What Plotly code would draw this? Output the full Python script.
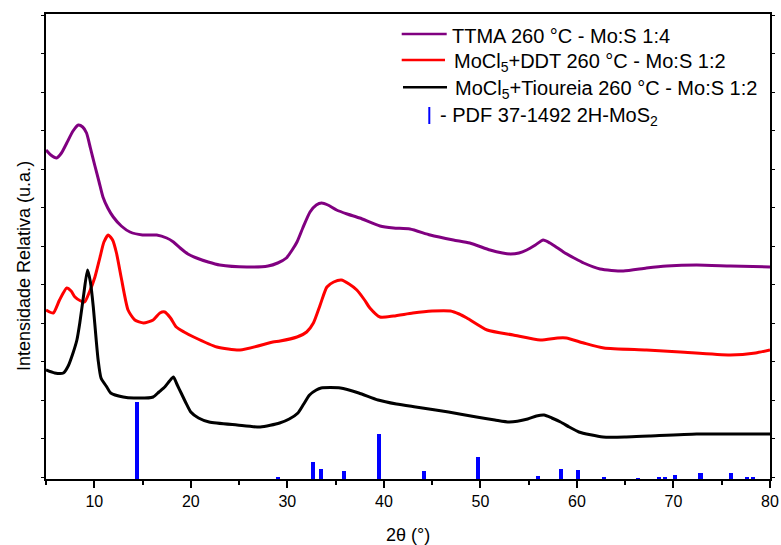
import plotly.graph_objects as go

# ---------------- data (2theta, relative intensity in arbitrary units) ----------------
ttma_x = [5.0, 5.5, 6.1, 6.6, 7.15, 7.8, 8.35, 8.8, 9.2, 9.6, 10.07, 10.5, 10.9, 11.4, 11.97,
          12.8, 13.7, 15.0, 16.47, 17.5, 18.2, 18.9, 19.7, 20.6, 21.8, 23.0, 25.8, 28.0, 29.0,
          29.9, 30.5, 31.0, 31.6, 32.35, 33.0, 33.55, 34.2, 35.1, 36.2, 37.5, 39.6, 41.0, 42.7,
          44.8, 47.2, 48.9, 51.0, 52.3, 53.1, 54.0, 54.8, 55.7, 56.5, 57.2, 58.0, 58.6, 59.7,
          60.7, 62.4, 64.8, 67.2, 69.3, 72.4, 75.9, 80.0]
ttma_y = [329, 324, 321, 326, 336, 348, 354, 352, 346, 331, 313, 297, 282, 271, 262,
          253, 247, 244, 244, 241, 237, 231, 225, 221, 217, 214, 212, 213, 216,
          221, 229, 237, 251, 267, 274, 276, 274, 269, 265, 261, 253, 251, 250,
          244, 239, 236, 229, 226, 225, 226, 229, 234, 239, 236, 231, 227, 221,
          216, 210, 208, 211, 213, 214, 213, 212]

ddt_x = [5.0, 5.75, 6.4, 7.15, 7.6, 8.0, 8.6, 9.0, 9.5, 10.07, 10.6, 11.0, 11.45, 11.9, 12.3,
         12.8, 13.5, 14.2, 15.1, 16.1, 16.8, 17.3, 17.9, 18.5, 19.3, 20.3, 22.7, 25.1, 28.5,
         29.25, 31.0, 32.0, 32.7, 33.4, 34.1, 34.8, 35.6, 36.4, 37.2, 38.0, 38.55, 39.6, 41.0,
         43.0, 45.0, 46.9, 47.8, 48.6, 50.7, 53.4, 56.2, 58.0, 58.9, 60.7, 62.8, 67.2, 70.7,
         75.9, 78.5, 80.0]
ddt_y = [169, 166, 179, 191, 188, 182, 178, 177, 187, 202, 222, 237, 244, 239, 226,
         201, 169, 159, 156, 159, 166, 167, 161, 152, 147, 142, 132, 129, 137,
         138, 142, 147, 156, 174, 192, 197, 199, 195, 189, 179, 171, 162, 163,
         166, 168, 168, 165, 161, 149, 144, 139, 141, 141, 136, 131, 129, 127,
         124, 126, 129]

tiou_x = [5.0, 5.9, 6.8, 7.3, 7.8, 8.2, 8.5, 8.9, 9.3, 9.6, 9.9, 10.2, 10.4, 10.7, 11.3,
          11.7, 13.0, 14.1, 16.1, 16.7, 17.3, 17.8, 18.2, 18.6, 19.0, 19.5, 20.0, 20.8, 21.9,
          24.8, 27.2, 29.2, 30.2, 31.1, 31.7, 32.3, 33.0, 33.5, 35.5, 37.4, 39.4, 41.3, 43.3,
          46.7, 49.6, 51.5, 53.0, 54.9, 55.8, 56.6, 57.4, 58.3, 59.2, 60.2, 62.7, 65.1, 67.5,
          72.4, 76.0, 80.0]
tiou_y = [109, 106, 106, 113, 126, 139, 156, 184, 209, 197, 172, 139, 119, 101, 92,
          86, 82, 81, 82, 87, 92, 98, 102, 94, 86, 76, 67, 61, 57,
          54, 52, 56, 60, 66, 75, 84, 89, 91, 91, 86, 79, 75, 72,
          67, 62, 59, 57, 60, 63, 64, 61, 57, 52, 47, 42, 42, 43,
          45, 45, 45]

pdf_pos = [14.38, 29.03, 32.68, 33.51, 35.87, 39.54, 44.15, 49.79, 55.98, 58.33,
           60.15, 62.8, 66.3, 68.5, 69.1, 70.15, 72.8, 75.95, 77.6, 78.2]
pdf_int = [77, 2, 17, 10, 8, 45, 8.5, 22.5, 3, 10.5,
           9.5, 2, 1, 2.5, 2, 3.7, 5.7, 5.7, 2, 2]

x_ticks = [10, 20, 30, 40, 50, 60, 70, 80]

names = ["TTMA 260 °C - Mo:S 1:4",
         "MoCl<sub>5</sub>+DDT 260 °C - Mo:S 1:2",
         "MoCl<sub>5</sub>+Tioureia 260 °C - Mo:S 1:2",
         "- PDF 37-1492 2H-MoS<sub>2</sub>"]
colors = ["#800080", "#FF0000", "#000000", "#0000FF"]

FONT = "Arial, Liberation Sans, sans-serif"

# ---------------- figure ----------------
W, H = 781, 545
L, R, T, B = 46, 11, 14, 66
PW, PH = W - L - R, H - T - B


def px(xp):
    return (xp - L) / PW


def py(yp):
    return (H - B - yp) / PH


fig = go.Figure()

fig.add_trace(go.Bar(x=pdf_pos, y=pdf_int, width=0.42, marker=dict(color=colors[3], line=dict(width=0)),
                     showlegend=False))
for xs, ys, c in [(ttma_x, ttma_y, colors[0]), (ddt_x, ddt_y, colors[1]), (tiou_x, tiou_y, colors[2])]:
    fig.add_trace(go.Scatter(x=xs, y=ys, mode="lines",
                             line=dict(color=c, width=3, shape="spline", smoothing=0.6),
                             showlegend=False))

fig.update_layout(
    width=W, height=H, autosize=False,
    margin=dict(l=L, r=R, t=T, b=B, pad=0, autoexpand=False),
    paper_bgcolor="white", plot_bgcolor="white",
    font=dict(family=FONT, color="black"),
    bargap=0,
)
fig.update_xaxes(range=[5, 80], tickvals=x_ticks, ticks="outside", ticklen=7, tickwidth=1.5,
                 tickcolor="black", showline=True, linecolor="black", linewidth=1.6, mirror=True,
                 showgrid=False, zeroline=False, tickfont=dict(size=16, family=FONT), automargin=False,
                 minor=dict(dtick=5, tick0=5, ticks="outside", ticklen=4, tickwidth=1.5, tickcolor="black"))
fig.update_yaxes(range=[0, PH], showticklabels=False, ticks="outside", ticklen=3, tickwidth=1,
                 tickcolor="black", tick0=1.8, dtick=38.5, showline=True, linecolor="black",
                 linewidth=1.6, mirror="ticks", showgrid=False, zeroline=False, automargin=False)

annotations = [
    dict(text="2θ (°)", x=0.5, y=py(535), xref="paper", yref="paper", showarrow=False,
         xanchor="center", yanchor="middle", font=dict(size=18, family=FONT)),
    dict(text="Intensidade Relativa (u.a.)", x=px(24), y=py(266), xref="paper", yref="paper",
         showarrow=False, textangle=-90, xanchor="center", yanchor="middle",
         font=dict(size=18, family=FONT)),
]
leg_rows = [(450, 36), (451.7, 62), (453.3, 89.5), (438.3, 116.5)]
for (tx, ty), name in zip(leg_rows, names):
    annotations.append(dict(text=name, x=px(tx), y=py(ty), xref="paper", yref="paper", showarrow=False,
                            xanchor="left", yanchor="middle", font=dict(size=20, family=FONT)))
fig.update_layout(annotations=annotations)

shapes = [
    dict(type="line", xref="paper", yref="paper", x0=px(401.7), x1=px(446.7), y0=py(34), y1=py(34),
         line=dict(color=colors[0], width=2.5)),
    dict(type="line", xref="paper", yref="paper", x0=px(401.7), x1=px(445), y0=py(60), y1=py(60),
         line=dict(color=colors[1], width=2.5)),
    dict(type="line", xref="paper", yref="paper", x0=px(403), x1=px(447), y0=py(87.3), y1=py(87.3),
         line=dict(color=colors[2], width=2.5)),
    dict(type="line", xref="paper", yref="paper", x0=px(429.3), x1=px(429.3), y0=py(107), y1=py(124),
         line=dict(color=colors[3], width=2)),
]
fig.update_layout(shapes=shapes)

fig.write_html("out.html")
